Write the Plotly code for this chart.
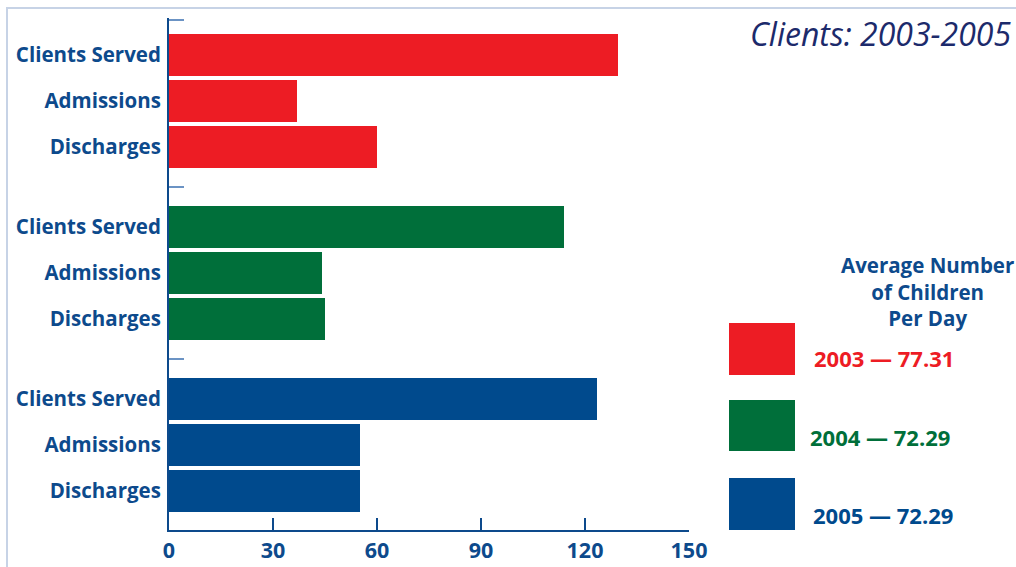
import plotly.graph_objects as go

# ---- data ----
categories = ["Clients Served", "Admissions", "Discharges"]
years = ["2003", "2004", "2005"]
values_2003 = [129.5, 37, 60]
values_2004 = [114, 44, 45]
values_2005 = [123.5, 55, 55]
avg_children = ["77.31", "72.29", "72.29"]
x_ticks = [0, 30, 60, 90, 120, 150]

colors = ["#ed1c24", "#006f3a", "#004a8d"]
NAVY = "#0d4a8c"
FONT = "Open Sans"

W, H = 1016, 567
L, R, T, B = 169, 689, 18, 530
GROUP_STEP = 3.74
BAR_W = 0.913

def px_x(px):
    return (px - L) / (R - L)

def px_y(py):
    return 1 - (py - T) / (B - T)

series = [values_2003, values_2004, values_2005]

fig = go.Figure()
tickvals, ticktext = [], []
for g, (yr, vals, col) in enumerate(zip(years, series, colors)):
    ys = [g * GROUP_STEP + i for i in range(len(categories))]
    tickvals += ys
    ticktext += categories
    fig.add_trace(go.Bar(
        x=vals, y=ys, orientation="h", width=BAR_W,
        marker=dict(color=col, line=dict(width=0)),
        name=yr, showlegend=False, hoverinfo="x",
    ))

sep_vals = [-0.76] + [g * GROUP_STEP + 2 + (GROUP_STEP - 2) / 2 for g in range(len(years) - 1)]
fig.add_trace(go.Scatter(x=[0], y=[0], yaxis="y2", mode="markers",
                         marker=dict(opacity=0), showlegend=False, hoverinfo="skip"))

y_range = [2 * GROUP_STEP + 2 + 0.85, -0.8]

fig.update_layout(
    width=W, height=H,
    margin=dict(l=L, r=W - R, t=T, b=H - B),
    paper_bgcolor="white", plot_bgcolor="white",
    bargap=0,
    xaxis=dict(range=[0, 150], tickvals=x_ticks, ticks="inside", ticklen=12,
               tickwidth=1.5, tickcolor=NAVY, showline=True, linecolor=NAVY,
               linewidth=2, showgrid=False, zeroline=False, automargin=False,
               tickfont=dict(family=FONT, size=21.5, color=NAVY, weight="bold")),
    yaxis=dict(range=y_range, tickvals=tickvals, ticktext=ticktext, ticks="",
               showline=True, linecolor=NAVY, linewidth=2, showgrid=False,
               zeroline=False, ticklabelstandoff=2, automargin=False,
               tickfont=dict(family=FONT, size=20.5, color=NAVY, weight="bold")),
    yaxis2=dict(range=y_range, overlaying="y", side="left", tickvals=sep_vals,
                ticks="inside", ticklen=15, tickwidth=2, tickcolor="#6b93c4",
                showticklabels=False, showline=False, showgrid=False, zeroline=False,
                automargin=False),
)

# outer border
fig.add_shape(type="rect", xref="paper", yref="paper",
              x0=px_x(7), x1=px_x(1030), y0=px_y(8), y1=px_y(580),
              line=dict(color="#c7d3e6", width=2), fillcolor="rgba(0,0,0,0)", layer="below")

# title
fig.add_annotation(text="<i>Clients: 2003-2005</i>", xref="paper", yref="paper",
                   x=px_x(1013), y=px_y(33), xanchor="right", yanchor="middle",
                   showarrow=False, font=dict(family=FONT, size=32, color="#1c2a6b"))

# legend title
fig.add_annotation(text="<b>Average Number<br>of Children<br>Per Day</b>", xref="paper", yref="paper",
                   x=px_x(927), y=px_y(291), xanchor="center", yanchor="middle",
                   showarrow=False, align="center",
                   font=dict(family=FONT, size=20.5, color=NAVY))

sw_y = [(323, 375), (400, 451), (478, 530)]
lab_y = [358, 437, 515]
lab_x = [884, 880, 883]
for yr, avg, col, (y0, y1), ly, lx in zip(years, avg_children, colors, sw_y, lab_y, lab_x):
    fig.add_shape(type="rect", xref="paper", yref="paper",
                  x0=px_x(729), x1=px_x(795), y0=px_y(y1), y1=px_y(y0),
                  fillcolor=col, line=dict(width=0))
    fig.add_annotation(text=f"<b>{yr} \u2014 {avg}</b>", xref="paper", yref="paper",
                       x=px_x(lx), y=px_y(ly), xanchor="center", yanchor="middle",
                       showarrow=False, font=dict(family=FONT, size=22, color=col))

fig.write_html("out.html", config={"displayModeBar": False},
               post_script="document.body.style.margin='0';document.body.style.overflow='hidden';")
